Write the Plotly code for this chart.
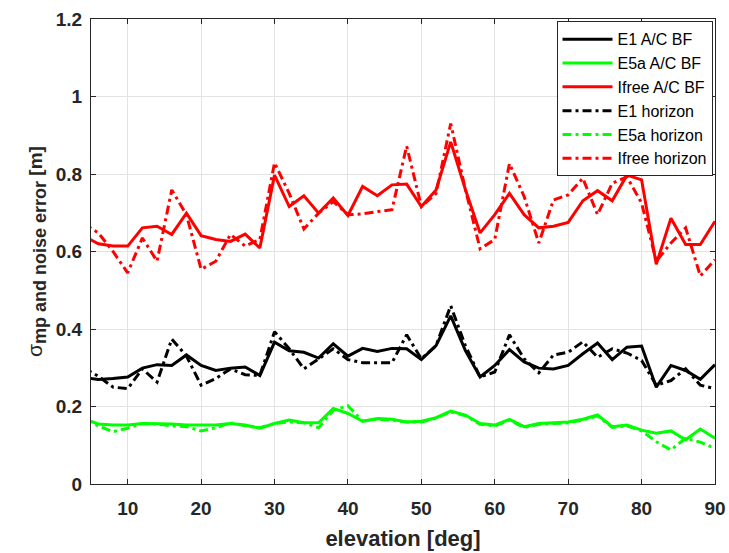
import plotly.graph_objects as go

elev = [4, 6, 8, 10, 12, 14, 16, 18, 20, 22, 24, 26, 28, 30, 32, 34, 36, 38, 40, 42, 44, 46,
        48, 50, 52, 54, 56, 58, 60, 62, 64, 66, 68, 70, 72, 74, 76, 78, 80, 82, 84, 86, 88, 90]

e1_acbf = [0.274, 0.270, 0.272, 0.276, 0.299, 0.308, 0.306, 0.333, 0.306, 0.293, 0.299, 0.302,
           0.280, 0.366, 0.344, 0.340, 0.325, 0.362, 0.330, 0.350, 0.342, 0.350,
           0.349, 0.321, 0.357, 0.434, 0.344, 0.276, 0.306, 0.347, 0.315, 0.299, 0.297, 0.306,
           0.336, 0.364, 0.321, 0.353, 0.356, 0.250, 0.306, 0.293, 0.270, 0.308]
e5a_acbf = [0.168, 0.155, 0.152, 0.152, 0.156, 0.156, 0.155, 0.152, 0.152, 0.152, 0.156, 0.152,
            0.144, 0.156, 0.165, 0.158, 0.158, 0.195, 0.182, 0.162, 0.169, 0.167,
            0.160, 0.162, 0.171, 0.188, 0.178, 0.156, 0.152, 0.167, 0.148, 0.156, 0.158, 0.160,
            0.167, 0.178, 0.148, 0.152, 0.139, 0.131, 0.137, 0.114, 0.142, 0.118]
ifree_acbf = [0.640, 0.620, 0.614, 0.614, 0.661, 0.665, 0.644, 0.699, 0.641, 0.631, 0.626, 0.645,
              0.609, 0.797, 0.716, 0.744, 0.699, 0.738, 0.693, 0.768, 0.744, 0.772,
              0.774, 0.716, 0.759, 0.883, 0.760, 0.648, 0.695, 0.750, 0.695, 0.661, 0.665, 0.675,
              0.731, 0.757, 0.731, 0.797, 0.785, 0.567, 0.686, 0.618, 0.618, 0.678]
e1_hor = [0.300, 0.278, 0.250, 0.246, 0.297, 0.263, 0.374, 0.330, 0.255, 0.272, 0.297, 0.282,
          0.280, 0.393, 0.349, 0.297, 0.323, 0.349, 0.321, 0.313, 0.313, 0.313,
          0.385, 0.323, 0.357, 0.460, 0.357, 0.276, 0.289, 0.385, 0.323, 0.287, 0.333, 0.340,
          0.367, 0.327, 0.349, 0.338, 0.319, 0.255, 0.267, 0.297, 0.255, 0.246]
e5a_hor = [0.168, 0.150, 0.135, 0.144, 0.156, 0.155, 0.150, 0.148, 0.137, 0.145, 0.158, 0.150,
           0.145, 0.156, 0.160, 0.158, 0.145, 0.190, 0.202, 0.162, 0.167, 0.165,
           0.160, 0.160, 0.170, 0.186, 0.176, 0.154, 0.150, 0.165, 0.146, 0.154, 0.156, 0.158,
           0.165, 0.176, 0.146, 0.150, 0.137, 0.109, 0.088, 0.118, 0.108, 0.092]
ifree_hor = [0.672, 0.648, 0.600, 0.545, 0.635, 0.575, 0.759, 0.695, 0.554, 0.575, 0.644, 0.614,
             0.631, 0.829, 0.750, 0.658, 0.699, 0.729, 0.695, 0.697, 0.703, 0.708,
             0.872, 0.716, 0.750, 0.930, 0.760, 0.607, 0.631, 0.827, 0.742, 0.622, 0.733, 0.746,
             0.789, 0.695, 0.776, 0.793, 0.725, 0.575, 0.622, 0.661, 0.537, 0.579]

x_ticks = [10, 20, 30, 40, 50, 60, 70, 80, 90]
y_ticks = [0, 0.2, 0.4, 0.6, 0.8, 1.0, 1.2]
y_tick_labels = ["0", "0.2", "0.4", "0.6", "0.8", "1", "1.2"]

DASHDOT = "9px,4px,3px,4px"
series = [
    ("E1 A/C BF", e1_acbf, "#000000", "solid"),
    ("E5a A/C BF", e5a_acbf, "#00FF00", "solid"),
    ("Ifree A/C BF", ifree_acbf, "#FF0000", "solid"),
    ("E1 horizon", e1_hor, "#000000", DASHDOT),
    ("E5a horizon", e5a_hor, "#00FF00", DASHDOT),
    ("Ifree horizon", ifree_hor, "#FF0000", DASHDOT),
]

FONT = "Liberation Sans, Arial"

fig = go.Figure()
for name, vals, col, dash in series:
    fig.add_trace(go.Scatter(x=elev, y=vals, mode="lines", name=name,
                             line=dict(color=col, width=3, dash=dash)))

axis_common = dict(showline=True, linecolor="#262626", linewidth=1, mirror="ticks",
                   ticks="inside", ticklen=5, tickcolor="#262626",
                   showgrid=True, gridcolor="#E3E3E3", gridwidth=1, zeroline=False,
                   automargin=False,
                   tickfont=dict(family=FONT, size=19, color="#262626"))

fig.update_xaxes(range=[5, 90], tickvals=x_ticks,
                 ticktext=["<b>%d</b>" % v for v in x_ticks],
                 ticklabelstandoff=7,
                 title=dict(text="<b>elevation [deg]</b>", standoff=12,
                            font=dict(family=FONT, size=22, color="#262626")),
                 **axis_common)
fig.update_yaxes(range=[0, 1.2], tickvals=y_ticks,
                 ticktext=["<b>%s</b>" % t for t in y_tick_labels],
                 ticklabelstandoff=4,
                 title=dict(text=("<span style='font-size:21px'>σ</span>"
                                  "<sub><span style='font-size:18px'><b>mp and noise error</b></span></sub>"
                                  " <b>[m]</b>"),
                            standoff=8,
                            font=dict(family=FONT, size=19, color="#262626")),
                 **axis_common)

fig.update_layout(
    width=729, height=553,
    margin=dict(l=91, r=14, t=19, b=69),
    plot_bgcolor="white", paper_bgcolor="white",
    font=dict(family=FONT, color="#262626"),
    legend=dict(x=0.996, y=0.995, xanchor="right", yanchor="top",
                bgcolor="white", bordercolor="#262626", borderwidth=1,
                font=dict(family=FONT, size=16, color="#000000"),
                tracegroupgap=0, itemwidth=50),
    showlegend=True,
)

fig.write_html("out.html")
